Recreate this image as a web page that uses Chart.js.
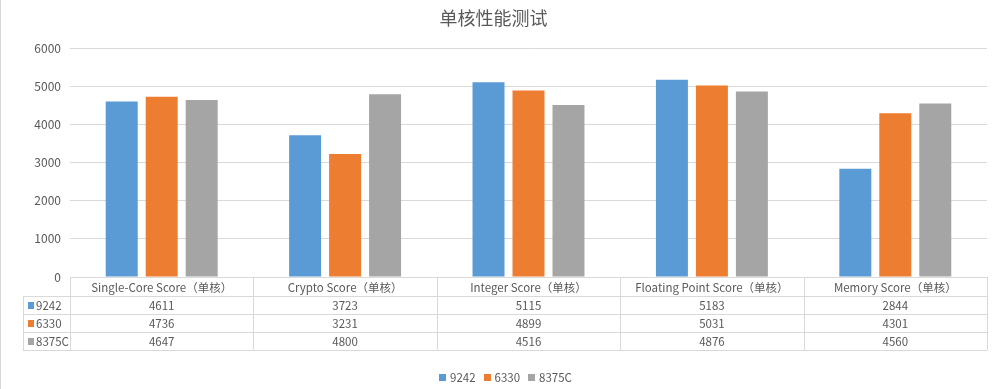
<!DOCTYPE html>
<html>
<head>
<meta charset="utf-8">
<script src="https://cdn.jsdelivr.net/npm/chart.js@4"></script>
<style>
  html, body { margin: 0; padding: 0; background: #fff; }
  #wrap { width: 999px; height: 389px; position: relative; }
</style>
</head>
<body>
<div id="wrap"><canvas id="benchChart" width="999" height="389"></canvas></div>
<script>
// chart values
let categories = ['Single-Core Score（单核）', 'Crypto Score（单核）', 'Integer Score（单核）', 'Floating Point Score（单核）', 'Memory Score（单核）'];
let seriesNames = ['9242', '6330', '8375C'];
let values9242 = [4611, 3723, 5115, 5183, 2844];
let values6330 = [4736, 3231, 4899, 5031, 4301];
let values8375C = [4647, 4800, 4516, 4876, 4560];
let yTicks = [0, 1000, 2000, 3000, 4000, 5000, 6000];

let colors = ['#5b9bd5', '#ed7d31', '#a5a5a5'];
let textColor = '#595959';
let lineColor = '#d9d9d9';
let fontFamily = '"Noto Sans CJK SC", "Noto Sans", sans-serif';

let seriesValues = [values9242, values6330, values8375C];

let chartData = {
    labels: categories,
    datasets: seriesNames.map(function (name, i) {
        return {
            label: name,
            data: seriesValues[i],
            backgroundColor: colors[i],
            categoryPercentage: 0.654,
            barPercentage: 0.8
        };
    })
};

// draws the data table under the plot and the legend at the bottom
let tablePlugin = {
    id: 'dataTable',
    afterDraw: function (chart) {
        let ctx = chart.ctx;
        let x = chart.scales.x;
        let area = chart.chartArea;
        let colW = (x.right - x.left) / categories.length;
        let rowTops = [area.bottom, area.bottom + 19, area.bottom + 37, area.bottom + 55, area.bottom + 73];
        let tableLeft = 23;

        ctx.save();
        ctx.strokeStyle = lineColor;
        ctx.lineWidth = 1;
        ctx.beginPath();
        // horizontal lines
        ctx.moveTo(x.left, rowTops[0] + 0.5);
        ctx.lineTo(x.right, rowTops[0] + 0.5);
        for (let r = 1; r < rowTops.length; r++) {
            ctx.moveTo(tableLeft, Math.round(rowTops[r]) + 0.5);
            ctx.lineTo(x.right, Math.round(rowTops[r]) + 0.5);
        }
        // vertical lines
        ctx.moveTo(tableLeft + 0.5, rowTops[1]);
        ctx.lineTo(tableLeft + 0.5, rowTops[4]);
        for (let c = 0; c <= categories.length; c++) {
            let lx = Math.round(x.left + c * colW) + 0.5;
            ctx.moveTo(lx, rowTops[0]);
            ctx.lineTo(lx, rowTops[4]);
        }
        // chart frame, left side
        ctx.moveTo(0.5, 0);
        ctx.lineTo(0.5, chart.height);
        ctx.stroke();

        ctx.fillStyle = textColor;
        ctx.font = '11.5px ' + fontFamily;
        ctx.textAlign = 'center';
        ctx.textBaseline = 'middle';
        categories.forEach(function (cat, i) {
            let cx = x.getPixelForValue(i);
            ctx.fillText(cat, cx, (rowTops[0] + rowTops[1]) / 2 + 1);
            seriesValues.forEach(function (vals, s) {
                ctx.fillText(String(vals[i]), cx, (rowTops[s + 1] + rowTops[s + 2]) / 2 + 1);
            });
        });

        // series keys inside the table
        ctx.textAlign = 'left';
        seriesNames.forEach(function (name, s) {
            let cy = (rowTops[s + 1] + rowTops[s + 2]) / 2;
            ctx.fillStyle = colors[s];
            ctx.fillRect(28, Math.round(cy - 3), 6, 7);
            ctx.fillStyle = textColor;
            ctx.fillText(name, 36, cy + 1);
        });

        // bottom legend
        let widths = seriesNames.map(function (n) { return 7 + 4 + ctx.measureText(n).width; });
        let gap = 8;
        let lx = 439;
        let ly = 377;
        seriesNames.forEach(function (name, s) {
            ctx.fillStyle = colors[s];
            ctx.fillRect(Math.round(lx), ly - 3, 7, 7);
            ctx.fillStyle = textColor;
            ctx.fillText(name, lx + 11, ly + 1);
            lx += widths[s] + gap;
        });
        ctx.restore();
    }
};

let ctx = document.getElementById('benchChart').getContext('2d');
new Chart(ctx, {
    type: 'bar',
    data: chartData,
    options: {
        responsive: false,
        animation: false,
        layout: { padding: { left: 0, right: 12, top: 0, bottom: 0 } },
        plugins: {
            legend: { display: false },
            tooltip: { enabled: false },
            title: {
                display: true,
                text: '单核性能测试',
                color: textColor,
                font: { family: fontFamily, size: 18, weight: 'normal' },
                padding: { top: 7, bottom: 20 }
            }
        },
        scales: {
            x: {
                grid: { display: false },
                border: { display: false },
                ticks: { display: false },
                afterFit: function (scale) { scale.height = 112; }
            },
            y: {
                min: yTicks[0],
                max: yTicks[yTicks.length - 1],
                afterBuildTicks: function (scale) {
                    scale.ticks = yTicks.map(function (v) { return { value: v }; });
                },
                grid: { color: lineColor, drawTicks: false },
                border: { display: false },
                ticks: {
                    color: textColor,
                    padding: 9,
                    font: { family: fontFamily, size: 12 },
                    callback: function (v) { return String(v); }
                },
                afterFit: function (scale) { scale.width = 70; }
            }
        }
    },
    plugins: [tablePlugin]
});
</script>
</body>
</html>
